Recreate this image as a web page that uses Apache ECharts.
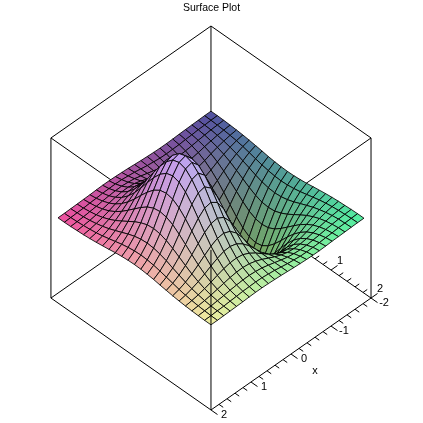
<!DOCTYPE html>
<html>
<head>
<meta charset="utf-8">
<style>
  html, body { margin: 0; padding: 0; background: #fff; }
  #main { width: 423px; height: 423px; }
</style>
<script src="https://cdn.jsdelivr.net/npm/echarts@6/dist/echarts.min.js"></script>
</head>
<body>
<div id="main"></div>
<script>
// surface heights, in thousandths; rows go x=-2..2, columns y=-2..2
const xValues = [-2, -1.833, -1.667, -1.5, -1.333, -1.167, -1, -0.833, -0.667, -0.5, -0.333, -0.167, 0, 0.167, 0.333, 0.5, 0.667, 0.833, 1, 1.167, 1.333, 1.5, 1.667, 1.833, 2];
const yValues = [-2, -1.833, -1.667, -1.5, -1.333, -1.167, -1, -0.833, -0.667, -0.5, -0.333, -0.167, 0, 0.167, 0.333, 0.5, 0.667, 0.833, 1, 1.167, 1.333, 1.5, 1.667, 1.833, 2];
const heights = [
  [-1,-1,-2,-4,-6,-9,-13,-18,-23,-29,-33,-36,-37,-36,-33,-29,-23,-18,-13,-9,-6,-4,-2,-1,-1],
  [-1,-2,-4,-7,-11,-16,-23,-32,-41,-50,-57,-62,-64,-62,-57,-50,-41,-32,-23,-16,-11,-7,-4,-2,-1],
  [-2,-4,-6,-11,-18,-27,-38,-52,-66,-81,-93,-101,-104,-101,-93,-81,-66,-52,-38,-27,-18,-11,-6,-4,-2],
  [-3,-5,-10,-17,-27,-41,-58,-79,-101,-123,-141,-154,-158,-154,-141,-123,-101,-79,-58,-41,-27,-17,-10,-5,-3],
  [-4,-8,-14,-24,-38,-58,-83,-113,-144,-175,-202,-219,-225,-219,-202,-175,-144,-113,-83,-58,-38,-24,-14,-8,-4],
  [-5,-10,-19,-32,-51,-77,-110,-149,-192,-233,-268,-291,-299,-291,-268,-233,-192,-149,-110,-77,-51,-32,-19,-10,-5],
  [-7,-13,-23,-39,-62,-94,-135,-184,-236,-287,-329,-358,-368,-358,-329,-287,-236,-184,-135,-94,-62,-39,-23,-13,-7],
  [-8,-14,-26,-44,-70,-107,-153,-208,-267,-324,-372,-405,-416,-405,-372,-324,-267,-208,-153,-107,-70,-44,-26,-14,-8],
  [-8,-15,-27,-45,-72,-110,-157,-213,-274,-333,-383,-416,-428,-416,-383,-333,-274,-213,-157,-110,-72,-45,-27,-15,-8],
  [-7,-14,-24,-41,-66,-100,-143,-194,-250,-303,-348,-379,-389,-379,-348,-303,-250,-194,-143,-100,-66,-41,-24,-14,-7],
  [-5,-10,-19,-31,-50,-76,-110,-149,-191,-232,-267,-290,-298,-290,-267,-232,-191,-149,-110,-76,-50,-31,-19,-10,-5],
  [-3,-6,-10,-17,-27,-42,-60,-81,-104,-126,-145,-158,-162,-158,-145,-126,-104,-81,-60,-42,-27,-17,-10,-6,-3],
  [0,0,0,0,0,0,0,0,0,0,0,0,0,0,0,0,0,0,0,0,0,0,0,0,0],
  [3,6,10,17,27,42,60,81,104,126,145,158,162,158,145,126,104,81,60,42,27,17,10,6,3],
  [5,10,19,31,50,76,110,149,191,232,267,290,298,290,267,232,191,149,110,76,50,31,19,10,5],
  [7,14,24,41,66,100,143,194,250,303,348,379,389,379,348,303,250,194,143,100,66,41,24,14,7],
  [8,15,27,45,72,110,157,213,274,333,383,416,428,416,383,333,274,213,157,110,72,45,27,15,8],
  [8,14,26,44,70,107,153,208,267,324,372,405,416,405,372,324,267,208,153,107,70,44,26,14,8],
  [7,13,23,39,62,94,135,184,236,287,329,358,368,358,329,287,236,184,135,94,62,39,23,13,7],
  [5,10,19,32,51,77,110,149,192,233,268,291,299,291,268,233,192,149,110,77,51,32,19,10,5],
  [4,8,14,24,38,58,83,113,144,175,202,219,225,219,202,175,144,113,83,58,38,24,14,8,4],
  [3,5,10,17,27,41,58,79,101,123,141,154,158,154,141,123,101,79,58,41,27,17,10,5,3],
  [2,4,6,11,18,27,38,52,66,81,93,101,104,101,93,81,66,52,38,27,18,11,6,4,2],
  [1,2,4,7,11,16,23,32,41,50,57,62,64,62,57,50,41,32,23,16,11,7,4,2,1],
  [1,1,2,4,6,9,13,18,23,29,33,36,37,36,33,29,23,18,13,9,6,4,2,1,1]
];
const xTicks = [-2, -1.8, -1.6, -1.4, -1.2, -1, -0.8, -0.6, -0.4, -0.2, 0, 0.2, 0.4, 0.6, 0.8, 1, 1.2, 1.4, 1.6, 1.8, 2];
const yTicks = [-2, -1.8, -1.6, -1.4, -1.2, -1, -0.8, -0.6, -0.4, -0.2, 0, 0.2, 0.4, 0.6, 0.8, 1, 1.2, 1.4, 1.6, 1.8, 2];
const xTickLabels = ['-2', '-1', '0', '1', '2'];
const yTickLabels = ['1', '2'];

// the box reaches a bit past the surface
const boxXY = 2.092;
const boxZ = 428;
const zScale = 4.889 / 1000;
const depth = 26.75 / 38.25;

function project(x, y, z) {
  return [y - x, -(x + y) * depth + z * zScale];
}

function boxPoint(sx, sy, sz) {
  return project(sx * boxXY, sy * boxXY, sz * boxZ);
}

// edges as pairs of box corners
const backEdges = [
  [[-1, -1, 1], [1, -1, 1]], [[-1, -1, 1], [-1, 1, 1]], [[1, -1, 1], [1, 1, 1]], [[-1, 1, 1], [1, 1, 1]],
  [[-1, -1, -1], [1, -1, -1]], [[-1, -1, -1], [-1, 1, -1]], [[1, -1, -1], [1, 1, -1]], [[-1, 1, -1], [1, 1, -1]],
  [[-1, -1, -1], [-1, -1, 1]], [[1, -1, -1], [1, -1, 1]], [[-1, 1, -1], [-1, 1, 1]]
];
const frontEdges = [[[1, 1, -1], [1, 1, 1]]];

function segment(api, a, b, width) {
  const p = api.coord(a);
  const q = api.coord(b);
  return {
    type: 'line',
    shape: { x1: p[0], y1: p[1], x2: q[0], y2: q[1] },
    style: { stroke: '#000', lineWidth: width || 1 }
  };
}

function label(api, at, dx, dy, text) {
  const p = api.coord(at);
  return {
    type: 'text',
    style: {
      text: text, x: p[0] + dx, y: p[1] + dy, fill: '#000',
      font: '11px "Liberation Sans"', align: 'center', verticalAlign: 'middle'
    }
  };
}

function cellColor(i, j) {
  const x = (xValues[i] + xValues[i + 1]) / 2;
  const y = (yValues[j] + yValues[j + 1]) / 2;
  const z = (heights[i][j] + heights[i + 1][j] + heights[i][j + 1] + heights[i + 1][j + 1]) / 4;
  const r = Math.round(80 + (x + 2) / 4 * 160);
  const g = Math.round(80 + (y + 2) / 4 * 160);
  const b = Math.round(160 + z / 428 * 80);
  return 'rgb(' + r + ',' + g + ',' + b + ')';
}

const cells = [];
for (let i = 0; i < xValues.length - 1; i++) {
  for (let j = 0; j < yValues.length - 1; j++) {
    cells.push([i, j]);
  }
}

const myChart = echarts.init(document.getElementById('main'));
myChart.setOption({
  animation: false,
  backgroundColor: '#fff',
  title: {
    text: 'Surface Plot',
    left: 'center',
    top: 3,
    padding: 0,
    textStyle: { fontFamily: 'Liberation Sans', fontSize: 10.5, fontWeight: 'normal', color: '#000' }
  },
  grid: { left: 0, right: 0, top: 0, bottom: 0 },
  xAxis: { type: 'value', min: -5.516, max: 5.543, show: false },
  yAxis: { type: 'value', min: -5.359, max: 5.699, show: false },
  series: [
    {
      // box and axes, the surface covers them
      type: 'custom',
      z: 1,
      silent: true,
      clip: false,
      data: [[0, 0]],
      renderItem: function (params, api) {
        const children = backEdges.map(function (e) {
          return segment(api, boxPoint(e[0][0], e[0][1], e[0][2]), boxPoint(e[1][0], e[1][1], e[1][2]));
        });
        xTicks.forEach(function (t) {
          const len = Number.isInteger(t) ? 0.17 : 0.11;
          const x = t * boxXY / 2;
          children.push(segment(api, project(x, boxXY, -boxZ), project(x, boxXY + len, -boxZ)));
        });
        yTicks.forEach(function (t) {
          const len = Number.isInteger(t) ? 0.17 : 0.11;
          const y = t * boxXY / 2;
          children.push(segment(api, project(-boxXY, y, -boxZ), project(-boxXY - len, y, -boxZ)));
        });
        xTickLabels.forEach(function (s) {
          children.push(label(api, project(Number(s) * boxXY / 2, boxXY, -boxZ), 13, 5, s));
        });
        yTickLabels.forEach(function (s) {
          children.push(label(api, project(-boxXY, Number(s) * boxXY / 2, -boxZ), 9, -9, s));
        });
        children.push(label(api, project(0, boxXY, -boxZ), 24, 17, 'x'));
        return { type: 'group', children: children };
      }
    },
    {
      // back to front, so nearer cells paint over farther ones
      type: 'custom',
      z: 2,
      silent: true,
      clip: false,
      progressive: 0,
      data: cells,
      renderItem: function (params, api) {
        const i = api.value(0);
        const j = api.value(1);
        const pts = [[i, j], [i + 1, j], [i + 1, j + 1], [i, j + 1]].map(function (c) {
          return api.coord(project(xValues[c[0]], yValues[c[1]], heights[c[0]][c[1]]));
        });
        return {
          type: 'polygon',
          shape: { points: pts },
          style: { fill: cellColor(i, j), stroke: '#000', lineWidth: 0.85 }
        };
      }
    },
    {
      // this edge stays on top of the surface
      type: 'custom',
      z: 3,
      silent: true,
      clip: false,
      data: [[0, 0]],
      renderItem: function (params, api) {
        return {
          type: 'group',
          children: frontEdges.map(function (e) {
            return segment(api, boxPoint(e[0][0], e[0][1], e[0][2]), boxPoint(e[1][0], e[1][1], e[1][2]));
          })
        };
      }
    }
  ]
});
</script>
</body>
</html>
